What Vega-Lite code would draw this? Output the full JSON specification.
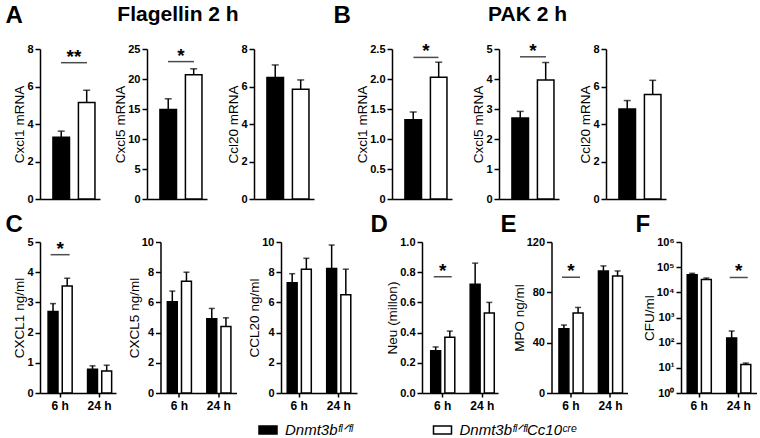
{
  "$schema": "https://vega.github.io/schema/vega-lite/v6.json",
  "background": "white",
  "padding": {"left": 5, "top": 3, "right": 0, "bottom": 0},
  "datasets": {
    "bars": [
      {"panel": "A1", "time": "2 h", "geno": "fl", "mean": 3.3, "err": 3.62},
      {"panel": "A1", "time": "2 h", "geno": "cre", "mean": 5.15, "err": 5.8},
      {"panel": "A2", "time": "2 h", "geno": "fl", "mean": 14.9, "err": 16.7},
      {"panel": "A2", "time": "2 h", "geno": "cre", "mean": 20.7, "err": 21.7},
      {"panel": "A3", "time": "2 h", "geno": "fl", "mean": 6.48, "err": 7.15},
      {"panel": "A3", "time": "2 h", "geno": "cre", "mean": 5.86, "err": 6.35},
      {"panel": "B1", "time": "2 h", "geno": "fl", "mean": 1.32, "err": 1.45},
      {"panel": "B1", "time": "2 h", "geno": "cre", "mean": 2.03, "err": 2.28},
      {"panel": "B2", "time": "2 h", "geno": "fl", "mean": 2.7, "err": 2.92},
      {"panel": "B2", "time": "2 h", "geno": "cre", "mean": 3.97, "err": 4.55},
      {"panel": "B3", "time": "2 h", "geno": "fl", "mean": 4.8, "err": 5.25},
      {"panel": "B3", "time": "2 h", "geno": "cre", "mean": 5.57, "err": 6.33},
      {"panel": "C1", "time": "6 h", "geno": "fl", "mean": 2.7, "err": 2.96},
      {"panel": "C1", "time": "6 h", "geno": "cre", "mean": 3.54, "err": 3.8},
      {"panel": "C1", "time": "24 h", "geno": "fl", "mean": 0.79, "err": 0.9},
      {"panel": "C1", "time": "24 h", "geno": "cre", "mean": 0.73, "err": 0.92},
      {"panel": "C2", "time": "6 h", "geno": "fl", "mean": 6.05, "err": 6.75},
      {"panel": "C2", "time": "6 h", "geno": "cre", "mean": 7.4, "err": 8.0},
      {"panel": "C2", "time": "24 h", "geno": "fl", "mean": 4.92, "err": 5.6},
      {"panel": "C2", "time": "24 h", "geno": "cre", "mean": 4.4, "err": 4.98},
      {"panel": "C3", "time": "6 h", "geno": "fl", "mean": 7.3, "err": 7.9},
      {"panel": "C3", "time": "6 h", "geno": "cre", "mean": 8.2, "err": 8.92},
      {"panel": "C3", "time": "24 h", "geno": "fl", "mean": 8.25, "err": 9.8},
      {"panel": "C3", "time": "24 h", "geno": "cre", "mean": 6.5, "err": 8.2},
      {"panel": "D", "time": "6 h", "geno": "fl", "mean": 0.28, "err": 0.305},
      {"panel": "D", "time": "6 h", "geno": "cre", "mean": 0.37, "err": 0.41},
      {"panel": "D", "time": "24 h", "geno": "fl", "mean": 0.72, "err": 0.86},
      {"panel": "D", "time": "24 h", "geno": "cre", "mean": 0.53, "err": 0.6},
      {"panel": "E", "time": "6 h", "geno": "fl", "mean": 51, "err": 54},
      {"panel": "E", "time": "6 h", "geno": "cre", "mean": 63.5, "err": 68},
      {"panel": "E", "time": "24 h", "geno": "fl", "mean": 97, "err": 101},
      {"panel": "E", "time": "24 h", "geno": "cre", "mean": 93, "err": 97},
      {"panel": "F", "time": "6 h", "geno": "fl", "mean": 50000, "err": 57000},
      {"panel": "F", "time": "6 h", "geno": "cre", "mean": 32000, "err": 37000},
      {"panel": "F", "time": "24 h", "geno": "fl", "mean": 155, "err": 290},
      {"panel": "F", "time": "24 h", "geno": "cre", "mean": 13.5, "err": 15.5}
    ],
    "sig": [
      {"panel": "A1", "time": "2 h", "mean": 7.27, "label": "**"},
      {"panel": "A2", "time": "2 h", "mean": 22.9, "label": "*"},
      {"panel": "B1", "time": "2 h", "mean": 2.36, "label": "*"},
      {"panel": "B2", "time": "2 h", "mean": 4.74, "label": "*"},
      {"panel": "C1", "time": "6 h", "mean": 4.58, "label": "*"},
      {"panel": "D", "time": "6 h", "mean": 0.77, "label": "*"},
      {"panel": "E", "time": "6 h", "mean": 92, "label": "*"},
      {"panel": "F", "time": "24 h", "mean": 38900, "label": "*"}
    ],
    "legend": [
      {"geno": "fl", "label": "Dnmt3bᶠˡᐟᶠˡ"},
      {"geno": "cre", "label": "Dnmt3bᶠˡᐟᶠˡCc10ᶜʳᵉ"}
    ]
  },
  "spacing": 8,
  "resolve": {"scale": {"x": "independent", "y": "independent", "xOffset": "independent"}},
  "vconcat": [
    {
      "spacing": 19,
      "resolve": {"scale": {"x": "independent", "y": "independent", "xOffset": "independent"}},
      "hconcat": [
        {
          "bounds": "flush",
          "spacing": 47,
          "resolve": {"scale": {"x": "independent", "y": "independent", "xOffset": "independent"}},
          "hconcat": [
            {
              "width": 60, "height": 150,
              "data": {"name": "bars"},
              "transform": [{"filter": "datum.panel === 'A1'"}],
              "encoding": {
                "x": {"field": "time", "type": "nominal", "title": "A", "scale": {"paddingInner": 0, "paddingOuter": 0.214, "align": 0.72}, "axis": {"labels": false, "ticks": false, "titleX": -35, "titleY": -176.5, "titleAlign": "left", "titleBaseline": "alphabetic", "titleFontSize": 24, "titleFontWeight": "bold", "titleLimit": 300}},
                "y": {"field": "mean", "type": "quantitative", "title": "Cxcl1 mRNA", "scale": {"domain": [0, 8]}, "axis": {"values": [0, 2, 4, 6, 8]}}
              },
              "layer": [
                {"mark": {"type": "bar", "stroke": "black", "strokeWidth": 1.5}, "encoding": {"xOffset": {"field": "geno", "type": "nominal", "sort": ["fl", "cre"], "scale": {"paddingInner": 0.35, "paddingOuter": 0}}, "fill": {"field": "geno", "type": "nominal", "scale": {"domain": ["fl", "cre"], "range": ["black", "white"]}, "legend": null}}},
                {"mark": {"type": "rule", "color": "black", "strokeWidth": 1.5}, "encoding": {"xOffset": {"field": "geno", "type": "nominal", "sort": ["fl", "cre"]}, "y2": {"field": "err"}}},
                {"mark": {"type": "tick", "color": "black", "size": 7, "thickness": 1.5}, "encoding": {"xOffset": {"field": "geno", "type": "nominal", "sort": ["fl", "cre"]}, "y": {"field": "err", "type": "quantitative", "title": "Cxcl1 mRNA"}}},
                {"data": {"name": "sig"}, "transform": [{"filter": "datum.panel === 'A1'"}], "mark": {"type": "tick", "color": "black", "size": 26, "thickness": 1.5}, "encoding": {}},
                {"data": {"name": "sig"}, "transform": [{"filter": "datum.panel === 'A1'"}], "mark": {"type": "text", "fontSize": 19, "fontWeight": "bold", "baseline": "alphabetic", "color": "black"}, "encoding": {"text": {"field": "label"}}}
              ]
            },
            {
              "width": 60, "height": 150,
              "data": {"name": "bars"},
              "transform": [{"filter": "datum.panel === 'A2'"}],
              "encoding": {
                "x": {"field": "time", "type": "nominal", "title": "Flagellin 2 h", "scale": {"paddingInner": 0, "paddingOuter": 0.214, "align": 0.72}, "axis": {"labels": false, "ticks": false, "titleX": 30.5, "titleY": -178.5, "titleAlign": "center", "titleBaseline": "alphabetic", "titleFontSize": 21, "titleFontWeight": "bold", "titleLimit": 300}},
                "y": {"field": "mean", "type": "quantitative", "title": "Cxcl5 mRNA", "scale": {"domain": [0, 25]}, "axis": {"values": [0, 5, 10, 15, 20, 25]}}
              },
              "layer": [
                {"mark": {"type": "bar", "stroke": "black", "strokeWidth": 1.5}, "encoding": {"xOffset": {"field": "geno", "type": "nominal", "sort": ["fl", "cre"], "scale": {"paddingInner": 0.35, "paddingOuter": 0}}, "fill": {"field": "geno", "type": "nominal", "scale": {"domain": ["fl", "cre"], "range": ["black", "white"]}, "legend": null}}},
                {"mark": {"type": "rule", "color": "black", "strokeWidth": 1.5}, "encoding": {"xOffset": {"field": "geno", "type": "nominal", "sort": ["fl", "cre"]}, "y2": {"field": "err"}}},
                {"mark": {"type": "tick", "color": "black", "size": 7, "thickness": 1.5}, "encoding": {"xOffset": {"field": "geno", "type": "nominal", "sort": ["fl", "cre"]}, "y": {"field": "err", "type": "quantitative", "title": "Cxcl5 mRNA"}}},
                {"data": {"name": "sig"}, "transform": [{"filter": "datum.panel === 'A2'"}], "mark": {"type": "tick", "color": "black", "size": 26, "thickness": 1.5}, "encoding": {}},
                {"data": {"name": "sig"}, "transform": [{"filter": "datum.panel === 'A2'"}], "mark": {"type": "text", "fontSize": 19, "fontWeight": "bold", "baseline": "alphabetic", "color": "black"}, "encoding": {"text": {"field": "label"}}}
              ]
            },
            {
              "width": 60, "height": 150,
              "data": {"name": "bars"},
              "transform": [{"filter": "datum.panel === 'A3'"}],
              "encoding": {
                "x": {"field": "time", "type": "nominal", "title": null, "scale": {"paddingInner": 0, "paddingOuter": 0.214, "align": 0.72}, "axis": {"labels": false, "ticks": false}},
                "y": {"field": "mean", "type": "quantitative", "title": "Ccl20 mRNA", "scale": {"domain": [0, 8]}, "axis": {"values": [0, 2, 4, 6, 8]}}
              },
              "layer": [
                {"mark": {"type": "bar", "stroke": "black", "strokeWidth": 1.5}, "encoding": {"xOffset": {"field": "geno", "type": "nominal", "sort": ["fl", "cre"], "scale": {"paddingInner": 0.35, "paddingOuter": 0}}, "fill": {"field": "geno", "type": "nominal", "scale": {"domain": ["fl", "cre"], "range": ["black", "white"]}, "legend": null}}},
                {"mark": {"type": "rule", "color": "black", "strokeWidth": 1.5}, "encoding": {"xOffset": {"field": "geno", "type": "nominal", "sort": ["fl", "cre"]}, "y2": {"field": "err"}}},
                {"mark": {"type": "tick", "color": "black", "size": 7, "thickness": 1.5}, "encoding": {"xOffset": {"field": "geno", "type": "nominal", "sort": ["fl", "cre"]}, "y": {"field": "err", "type": "quantitative", "title": "Ccl20 mRNA"}}}
              ]
            }
          ]
        },
        {
          "bounds": "flush",
          "spacing": 47,
          "resolve": {"scale": {"x": "independent", "y": "independent", "xOffset": "independent"}},
          "hconcat": [
            {
              "width": 60, "height": 150,
              "data": {"name": "bars"},
              "transform": [{"filter": "datum.panel === 'B1'"}],
              "encoding": {
                "x": {"field": "time", "type": "nominal", "title": "B", "scale": {"paddingInner": 0, "paddingOuter": 0.214, "align": 0.72}, "axis": {"labels": false, "ticks": false, "titleX": -59, "titleY": -176.5, "titleAlign": "left", "titleBaseline": "alphabetic", "titleFontSize": 24, "titleFontWeight": "bold", "titleLimit": 300}},
                "y": {"field": "mean", "type": "quantitative", "title": "Cxcl1 mRNA", "scale": {"domain": [0, 2.5]}, "axis": {"values": [0, 0.5, 1, 1.5, 2, 2.5], "labelExpr": "datum.value === 0 ? '0' : format(datum.value, '.1f')"}}
              },
              "layer": [
                {"mark": {"type": "bar", "stroke": "black", "strokeWidth": 1.5}, "encoding": {"xOffset": {"field": "geno", "type": "nominal", "sort": ["fl", "cre"], "scale": {"paddingInner": 0.35, "paddingOuter": 0}}, "fill": {"field": "geno", "type": "nominal", "scale": {"domain": ["fl", "cre"], "range": ["black", "white"]}, "legend": null}}},
                {"mark": {"type": "rule", "color": "black", "strokeWidth": 1.5}, "encoding": {"xOffset": {"field": "geno", "type": "nominal", "sort": ["fl", "cre"]}, "y2": {"field": "err"}}},
                {"mark": {"type": "tick", "color": "black", "size": 7, "thickness": 1.5}, "encoding": {"xOffset": {"field": "geno", "type": "nominal", "sort": ["fl", "cre"]}, "y": {"field": "err", "type": "quantitative", "title": "Cxcl1 mRNA"}}},
                {"data": {"name": "sig"}, "transform": [{"filter": "datum.panel === 'B1'"}], "mark": {"type": "tick", "color": "black", "size": 25, "thickness": 1.5}, "encoding": {}},
                {"data": {"name": "sig"}, "transform": [{"filter": "datum.panel === 'B1'"}], "mark": {"type": "text", "fontSize": 19, "fontWeight": "bold", "baseline": "alphabetic", "color": "black"}, "encoding": {"text": {"field": "label"}}}
              ]
            },
            {
              "width": 60, "height": 150,
              "data": {"name": "bars"},
              "transform": [{"filter": "datum.panel === 'B2'"}],
              "encoding": {
                "x": {"field": "time", "type": "nominal", "title": "PAK 2 h", "scale": {"paddingInner": 0, "paddingOuter": 0.214, "align": 0.72}, "axis": {"labels": false, "ticks": false, "titleX": 28, "titleY": -178.5, "titleAlign": "center", "titleBaseline": "alphabetic", "titleFontSize": 21, "titleFontWeight": "bold", "titleLimit": 300}},
                "y": {"field": "mean", "type": "quantitative", "title": "Cxcl5 mRNA", "scale": {"domain": [0, 5]}, "axis": {"values": [0, 1, 2, 3, 4, 5]}}
              },
              "layer": [
                {"mark": {"type": "bar", "stroke": "black", "strokeWidth": 1.5}, "encoding": {"xOffset": {"field": "geno", "type": "nominal", "sort": ["fl", "cre"], "scale": {"paddingInner": 0.35, "paddingOuter": 0}}, "fill": {"field": "geno", "type": "nominal", "scale": {"domain": ["fl", "cre"], "range": ["black", "white"]}, "legend": null}}},
                {"mark": {"type": "rule", "color": "black", "strokeWidth": 1.5}, "encoding": {"xOffset": {"field": "geno", "type": "nominal", "sort": ["fl", "cre"]}, "y2": {"field": "err"}}},
                {"mark": {"type": "tick", "color": "black", "size": 7, "thickness": 1.5}, "encoding": {"xOffset": {"field": "geno", "type": "nominal", "sort": ["fl", "cre"]}, "y": {"field": "err", "type": "quantitative", "title": "Cxcl5 mRNA"}}},
                {"data": {"name": "sig"}, "transform": [{"filter": "datum.panel === 'B2'"}], "mark": {"type": "tick", "color": "black", "size": 26, "thickness": 1.5}, "encoding": {}},
                {"data": {"name": "sig"}, "transform": [{"filter": "datum.panel === 'B2'"}], "mark": {"type": "text", "fontSize": 19, "fontWeight": "bold", "baseline": "alphabetic", "color": "black"}, "encoding": {"text": {"field": "label"}}}
              ]
            },
            {
              "width": 60, "height": 150,
              "data": {"name": "bars"},
              "transform": [{"filter": "datum.panel === 'B3'"}],
              "encoding": {
                "x": {"field": "time", "type": "nominal", "title": null, "scale": {"paddingInner": 0, "paddingOuter": 0.214, "align": 0.72}, "axis": {"labels": false, "ticks": false}},
                "y": {"field": "mean", "type": "quantitative", "title": "Ccl20 mRNA", "scale": {"domain": [0, 8]}, "axis": {"values": [0, 2, 4, 6, 8]}}
              },
              "layer": [
                {"mark": {"type": "bar", "stroke": "black", "strokeWidth": 1.5}, "encoding": {"xOffset": {"field": "geno", "type": "nominal", "sort": ["fl", "cre"], "scale": {"paddingInner": 0.35, "paddingOuter": 0}}, "fill": {"field": "geno", "type": "nominal", "scale": {"domain": ["fl", "cre"], "range": ["black", "white"]}, "legend": null}}},
                {"mark": {"type": "rule", "color": "black", "strokeWidth": 1.5}, "encoding": {"xOffset": {"field": "geno", "type": "nominal", "sort": ["fl", "cre"]}, "y2": {"field": "err"}}},
                {"mark": {"type": "tick", "color": "black", "size": 7, "thickness": 1.5}, "encoding": {"xOffset": {"field": "geno", "type": "nominal", "sort": ["fl", "cre"]}, "y": {"field": "err", "type": "quantitative", "title": "Ccl20 mRNA"}}}
              ]
            }
          ]
        }
      ]
    },
    {
      "spacing": 13,
      "resolve": {"scale": {"x": "independent", "y": "independent", "xOffset": "independent"}},
      "hconcat": [
        {
          "bounds": "flush",
          "spacing": 44.5,
          "resolve": {"scale": {"x": "independent", "y": "independent", "xOffset": "independent"}},
          "hconcat": [
            {
              "width": 76, "height": 151,
              "data": {"name": "bars"},
              "transform": [{"filter": "datum.panel === 'C1'"}],
              "encoding": {
                "x": {"field": "time", "type": "nominal", "title": "C", "sort": ["6 h", "24 h"], "scale": {"paddingInner": 0.39, "paddingOuter": 0.1575, "align": 0.65}, "axis": {"titleX": -35, "titleY": -162, "titleAlign": "left", "titleBaseline": "alphabetic", "titleFontSize": 24, "titleFontWeight": "bold", "titleLimit": 300}},
                "y": {"field": "mean", "type": "quantitative", "title": "CXCL1 ng/ml", "scale": {"domain": [0, 5]}, "axis": {"values": [0, 1, 2, 3, 4, 5]}}
              },
              "layer": [
                {"mark": {"type": "bar", "stroke": "black", "strokeWidth": 1.5}, "encoding": {"xOffset": {"field": "geno", "type": "nominal", "sort": ["fl", "cre"], "scale": {"paddingInner": 0.3, "paddingOuter": 0}}, "fill": {"field": "geno", "type": "nominal", "scale": {"domain": ["fl", "cre"], "range": ["black", "white"]}, "legend": null}}},
                {"mark": {"type": "rule", "color": "black", "strokeWidth": 1.5}, "encoding": {"xOffset": {"field": "geno", "type": "nominal", "sort": ["fl", "cre"]}, "y2": {"field": "err"}}},
                {"mark": {"type": "tick", "color": "black", "size": 6, "thickness": 1.5}, "encoding": {"xOffset": {"field": "geno", "type": "nominal", "sort": ["fl", "cre"]}, "y": {"field": "err", "type": "quantitative", "title": "CXCL1 ng/ml"}}},
                {"data": {"name": "sig"}, "transform": [{"filter": "datum.panel === 'C1'"}], "mark": {"type": "tick", "color": "black", "size": 19, "thickness": 1.5}, "encoding": {}},
                {"data": {"name": "sig"}, "transform": [{"filter": "datum.panel === 'C1'"}], "mark": {"type": "text", "fontSize": 19, "fontWeight": "bold", "baseline": "alphabetic", "color": "black"}, "encoding": {"text": {"field": "label"}}}
              ]
            },
            {
              "width": 76, "height": 151,
              "data": {"name": "bars"},
              "transform": [{"filter": "datum.panel === 'C2'"}],
              "encoding": {
                "x": {"field": "time", "type": "nominal", "title": null, "sort": ["6 h", "24 h"], "scale": {"paddingInner": 0.39, "paddingOuter": 0.1575, "align": 0.55}},
                "y": {"field": "mean", "type": "quantitative", "title": "CXCL5 ng/ml", "scale": {"domain": [0, 10]}, "axis": {"values": [0, 2, 4, 6, 8, 10]}}
              },
              "layer": [
                {"mark": {"type": "bar", "stroke": "black", "strokeWidth": 1.5}, "encoding": {"xOffset": {"field": "geno", "type": "nominal", "sort": ["fl", "cre"], "scale": {"paddingInner": 0.3, "paddingOuter": 0}}, "fill": {"field": "geno", "type": "nominal", "scale": {"domain": ["fl", "cre"], "range": ["black", "white"]}, "legend": null}}},
                {"mark": {"type": "rule", "color": "black", "strokeWidth": 1.5}, "encoding": {"xOffset": {"field": "geno", "type": "nominal", "sort": ["fl", "cre"]}, "y2": {"field": "err"}}},
                {"mark": {"type": "tick", "color": "black", "size": 6, "thickness": 1.5}, "encoding": {"xOffset": {"field": "geno", "type": "nominal", "sort": ["fl", "cre"]}, "y": {"field": "err", "type": "quantitative", "title": "CXCL5 ng/ml"}}}
              ]
            },
            {
              "width": 76, "height": 151,
              "data": {"name": "bars"},
              "transform": [{"filter": "datum.panel === 'C3'"}],
              "encoding": {
                "x": {"field": "time", "type": "nominal", "title": null, "sort": ["6 h", "24 h"], "scale": {"paddingInner": 0.39, "paddingOuter": 0.1575, "align": 0.5}},
                "y": {"field": "mean", "type": "quantitative", "title": "CCL20 ng/ml", "scale": {"domain": [0, 10]}, "axis": {"values": [0, 2, 4, 6, 8, 10]}}
              },
              "layer": [
                {"mark": {"type": "bar", "stroke": "black", "strokeWidth": 1.5}, "encoding": {"xOffset": {"field": "geno", "type": "nominal", "sort": ["fl", "cre"], "scale": {"paddingInner": 0.3, "paddingOuter": 0}}, "fill": {"field": "geno", "type": "nominal", "scale": {"domain": ["fl", "cre"], "range": ["black", "white"]}, "legend": null}}},
                {"mark": {"type": "rule", "color": "black", "strokeWidth": 1.5}, "encoding": {"xOffset": {"field": "geno", "type": "nominal", "sort": ["fl", "cre"]}, "y2": {"field": "err"}}},
                {"mark": {"type": "tick", "color": "black", "size": 6, "thickness": 1.5}, "encoding": {"xOffset": {"field": "geno", "type": "nominal", "sort": ["fl", "cre"]}, "y": {"field": "err", "type": "quantitative", "title": "CCL20 ng/ml"}}}
              ]
            }
          ]
        },
        {
          "bounds": "flush",
          "spacing": 53.5,
          "resolve": {"scale": {"x": "independent", "y": "independent", "xOffset": "independent"}},
          "hconcat": [
            {
              "width": 76, "height": 151,
              "data": {"name": "bars"},
              "transform": [{"filter": "datum.panel === 'D'"}],
              "encoding": {
                "x": {"field": "time", "type": "nominal", "title": "D", "sort": ["6 h", "24 h"], "scale": {"paddingInner": 0.39, "paddingOuter": 0.1575, "align": 0.7}, "axis": {"titleX": -52, "titleY": -162, "titleAlign": "left", "titleBaseline": "alphabetic", "titleFontSize": 24, "titleFontWeight": "bold", "titleLimit": 300}},
                "y": {"field": "mean", "type": "quantitative", "title": "Neu (millon)", "scale": {"domain": [0, 1]}, "axis": {"values": [0, 0.2, 0.4, 0.6, 0.8, 1.0], "format": ".1f"}}
              },
              "layer": [
                {"mark": {"type": "bar", "stroke": "black", "strokeWidth": 1.5}, "encoding": {"xOffset": {"field": "geno", "type": "nominal", "sort": ["fl", "cre"], "scale": {"paddingInner": 0.3, "paddingOuter": 0}}, "fill": {"field": "geno", "type": "nominal", "scale": {"domain": ["fl", "cre"], "range": ["black", "white"]}, "legend": null}}},
                {"mark": {"type": "rule", "color": "black", "strokeWidth": 1.5}, "encoding": {"xOffset": {"field": "geno", "type": "nominal", "sort": ["fl", "cre"]}, "y2": {"field": "err"}}},
                {"mark": {"type": "tick", "color": "black", "size": 6, "thickness": 1.5}, "encoding": {"xOffset": {"field": "geno", "type": "nominal", "sort": ["fl", "cre"]}, "y": {"field": "err", "type": "quantitative", "title": "Neu (millon)"}}},
                {"data": {"name": "sig"}, "transform": [{"filter": "datum.panel === 'D'"}], "mark": {"type": "tick", "color": "black", "size": 18, "thickness": 1.5}, "encoding": {}},
                {"data": {"name": "sig"}, "transform": [{"filter": "datum.panel === 'D'"}], "mark": {"type": "text", "fontSize": 19, "fontWeight": "bold", "baseline": "alphabetic", "color": "black"}, "encoding": {"text": {"field": "label"}}}
              ]
            },
            {
              "width": 76, "height": 151,
              "data": {"name": "bars"},
              "transform": [{"filter": "datum.panel === 'E'"}],
              "encoding": {
                "x": {"field": "time", "type": "nominal", "title": "E", "sort": ["6 h", "24 h"], "scale": {"paddingInner": 0.39, "paddingOuter": 0.1575, "align": 0.6}, "axis": {"titleX": -51.5, "titleY": -162, "titleAlign": "left", "titleBaseline": "alphabetic", "titleFontSize": 24, "titleFontWeight": "bold", "titleLimit": 300}},
                "y": {"field": "mean", "type": "quantitative", "title": "MPO ng/ml", "scale": {"domain": [0, 120]}, "axis": {"values": [0, 40, 80, 120]}}
              },
              "layer": [
                {"mark": {"type": "bar", "stroke": "black", "strokeWidth": 1.5}, "encoding": {"xOffset": {"field": "geno", "type": "nominal", "sort": ["fl", "cre"], "scale": {"paddingInner": 0.3, "paddingOuter": 0}}, "fill": {"field": "geno", "type": "nominal", "scale": {"domain": ["fl", "cre"], "range": ["black", "white"]}, "legend": null}}},
                {"mark": {"type": "rule", "color": "black", "strokeWidth": 1.5}, "encoding": {"xOffset": {"field": "geno", "type": "nominal", "sort": ["fl", "cre"]}, "y2": {"field": "err"}}},
                {"mark": {"type": "tick", "color": "black", "size": 6, "thickness": 1.5}, "encoding": {"xOffset": {"field": "geno", "type": "nominal", "sort": ["fl", "cre"]}, "y": {"field": "err", "type": "quantitative", "title": "MPO ng/ml"}}},
                {"data": {"name": "sig"}, "transform": [{"filter": "datum.panel === 'E'"}], "mark": {"type": "tick", "color": "black", "size": 18, "thickness": 1.5}, "encoding": {}},
                {"data": {"name": "sig"}, "transform": [{"filter": "datum.panel === 'E'"}], "mark": {"type": "text", "fontSize": 19, "fontWeight": "bold", "baseline": "alphabetic", "color": "black"}, "encoding": {"text": {"field": "label"}}}
              ]
            },
            {
              "width": 76, "height": 151,
              "data": {"name": "bars"},
              "transform": [{"filter": "datum.panel === 'F'"}],
              "encoding": {
                "x": {"field": "time", "type": "nominal", "title": "F", "sort": ["6 h", "24 h"], "scale": {"paddingInner": 0.39, "paddingOuter": 0.1575, "align": 0.5}, "axis": {"titleX": -46, "titleY": -162, "titleAlign": "left", "titleBaseline": "alphabetic", "titleFontSize": 24, "titleFontWeight": "bold", "titleLimit": 300}},
                "y": {"field": "mean", "type": "quantitative", "title": "CFU/ml", "scale": {"type": "log", "domain": [1, 1000000]}, "axis": {"values": [1, 10, 100, 1000, 10000, 100000, 1000000], "labelExpr": "'10' + ['⁰','¹','²','³','⁴','⁵','⁶'][round(log(datum.value) / LN10)]"}}
              },
              "layer": [
                {"mark": {"type": "bar", "stroke": "black", "strokeWidth": 1.5}, "encoding": {"y2": {"datum": 1}, "xOffset": {"field": "geno", "type": "nominal", "sort": ["fl", "cre"], "scale": {"paddingInner": 0.3, "paddingOuter": 0}}, "fill": {"field": "geno", "type": "nominal", "scale": {"domain": ["fl", "cre"], "range": ["black", "white"]}, "legend": null}}},
                {"mark": {"type": "rule", "color": "black", "strokeWidth": 1.5}, "encoding": {"xOffset": {"field": "geno", "type": "nominal", "sort": ["fl", "cre"]}, "y2": {"field": "err"}}},
                {"mark": {"type": "tick", "color": "black", "size": 6, "thickness": 1.5}, "encoding": {"xOffset": {"field": "geno", "type": "nominal", "sort": ["fl", "cre"]}, "y": {"field": "err", "type": "quantitative", "title": "CFU/ml"}}},
                {"data": {"name": "sig"}, "transform": [{"filter": "datum.panel === 'F'"}], "mark": {"type": "tick", "color": "black", "size": 18, "thickness": 1.5}, "encoding": {}},
                {"data": {"name": "sig"}, "transform": [{"filter": "datum.panel === 'F'"}], "mark": {"type": "text", "fontSize": 19, "fontWeight": "bold", "baseline": "alphabetic", "color": "black"}, "encoding": {"text": {"field": "label"}}}
              ]
            }
          ]
        }
      ]
    },
    {
      "width": 489.75, "height": 22,
      "data": {"name": "legend"},
      "encoding": {
        "x": {"field": "geno", "type": "nominal", "sort": ["fl", "cre"], "scale": {"type": "band", "paddingInner": 0, "paddingOuter": 0.4033, "align": 1}, "axis": null}
      },
      "layer": [
        {"mark": {"type": "point", "shape": "M-1,-0.45L1,-0.45L1,0.45L-1,0.45Z", "size": 324, "filled": true, "stroke": "black", "strokeWidth": 1.5, "opacity": 1}, "encoding": {"fill": {"field": "geno", "type": "nominal", "scale": {"domain": ["fl", "cre"], "range": ["black", "white"]}, "legend": null}}},
        {"mark": {"type": "text", "align": "left", "baseline": "middle", "dx": 17, "fontSize": 15, "fontStyle": "italic", "font": "Liberation Sans", "color": "black"}, "encoding": {"text": {"field": "label"}}}
      ]
    }
  ],
  "config": {
    "view": {"stroke": null},
    "font": "Liberation Sans",
    "axis": {"grid": false, "domainColor": "black", "domainWidth": 1.5, "tickColor": "black", "tickWidth": 1.5, "tickSize": 5, "labelColor": "black", "labelFont": "Liberation Sans", "labelFontWeight": "bold", "labelFontSize": 11, "labelPadding": 2, "titleFont": "Liberation Sans", "titleFontWeight": "normal", "titleFontSize": 13.5, "titleColor": "black", "titlePadding": 0},
    "axisX": {"labelAngle": 0, "labelFontSize": 12, "tickSize": 4, "labelPadding": 3}
  }
}
